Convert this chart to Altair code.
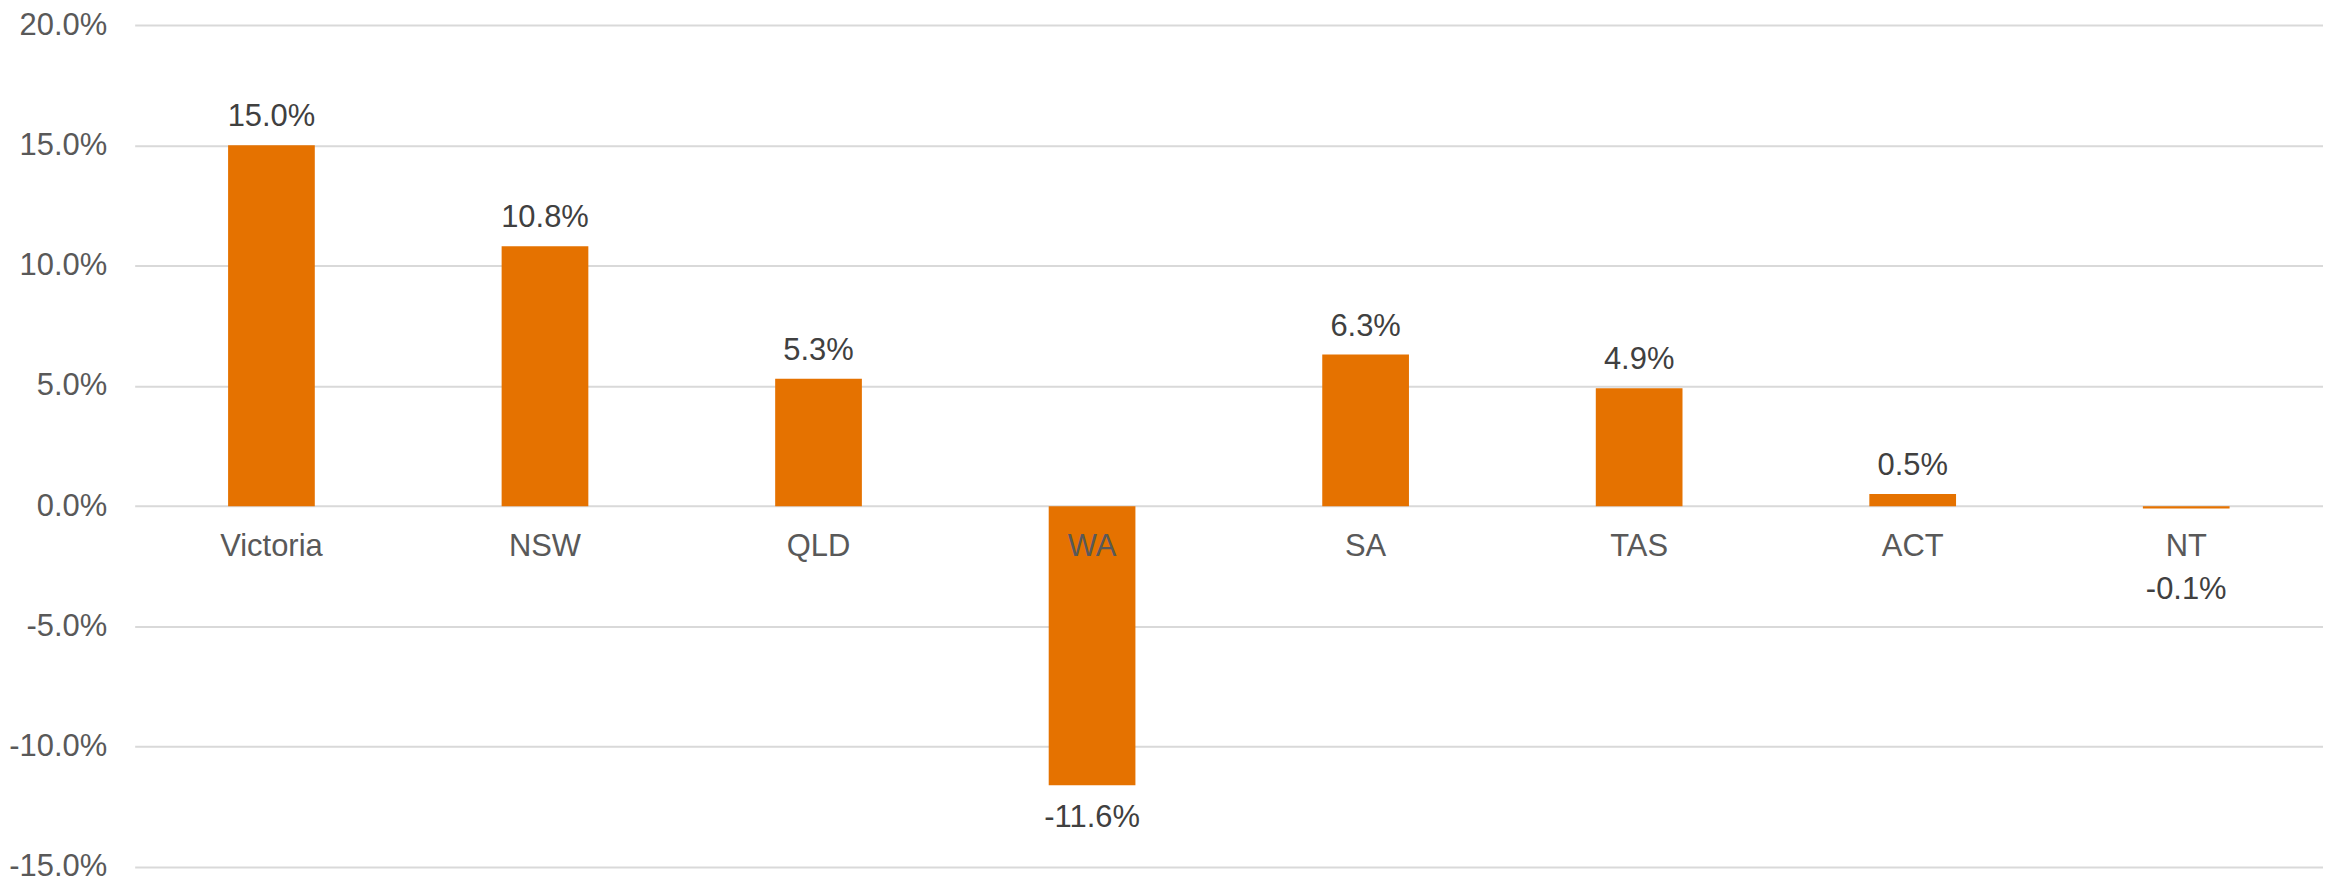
import altair as alt
import pandas as pd

regions = ["Victoria", "NSW", "QLD", "WA", "SA", "TAS", "ACT", "NT"]
changes = [0.150, 0.108, 0.053, -0.116, 0.063, 0.049, 0.005, -0.001]
y_ticks = [-0.15, -0.10, -0.05, 0.0, 0.05, 0.10, 0.15, 0.20]

df = pd.DataFrame({"region": regions, "change": changes})

FONT = "Liberation Sans"
BAR = "#E57200"
FMT = "replace(format({v}, '.1%'), '\u2212', '-')"

x_enc = alt.X("region:N", sort=regions,
              scale=alt.Scale(paddingInner=0.683, paddingOuter=0.3415),
              axis=None)
y_scale = alt.Scale(domain=[-0.15, 0.20], nice=False, zero=False)

base = alt.Chart(df).transform_calculate(
    label=FMT.format(v="datum.change")
)

bars = base.mark_bar(color=BAR).encode(
    x=x_enc,
    y=alt.Y("change:Q", scale=y_scale,
            axis=alt.Axis(values=y_ticks, title=None,
                          labelExpr=FMT.format(v="datum.value"),
                          grid=True, gridColor="#D9D9D9", gridWidth=2,
                          domain=False, ticks=False,
                          labelFont=FONT, labelFontSize=31,
                          labelColor="#595959", labelPadding=28)),
)

pos_labels = base.transform_filter("datum.change >= 0").mark_text(
    baseline="alphabetic", dy=-19, font=FONT, fontSize=31, color="#404040"
).encode(
    x=x_enc,
    y=alt.Y("change:Q", scale=y_scale),
    text="label:N",
)

neg_labels = base.transform_filter("datum.change < 0").transform_calculate(
    lab_y="min(datum.change, -0.021)"
).mark_text(
    baseline="alphabetic", dy=42, font=FONT, fontSize=31, color="#404040"
).encode(
    x=x_enc,
    y=alt.Y("lab_y:Q", scale=y_scale),
    text="label:N",
)

cat_labels = base.transform_calculate(zero="0").mark_text(
    baseline="alphabetic", dy=50, font=FONT, fontSize=31, color="#595959"
).encode(
    x=x_enc,
    y=alt.Y("zero:Q", scale=y_scale),
    text="region:N",
)

chart = alt.layer(bars, pos_labels, neg_labels, cat_labels).properties(
    width=2194, height=844,
    background="white",
    autosize=alt.AutoSizeParams(type="none"),
    padding={"left": 127, "top": 16, "right": 0, "bottom": 19},
).configure_view(stroke="transparent", strokeWidth=0)

chart.save("out.html", embed_options={"renderer": "svg", "actions": False})
